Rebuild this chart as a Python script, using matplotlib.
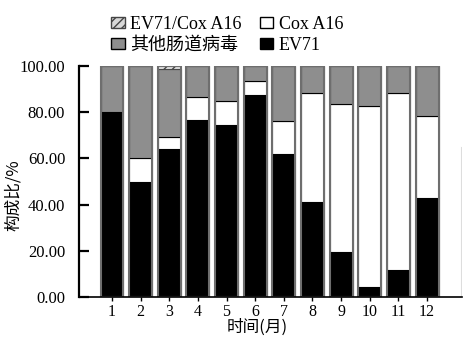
import numpy as np
import matplotlib.pyplot as plt
from matplotlib.patches import Patch

# 数据
months = ['1', '2', '3', '4', '5', '6', '7', '8', '9', '10', '11', '12']
ev71 = [80.0, 50.0, 64.0, 76.8, 74.5, 87.4, 62.0, 41.2, 19.5, 4.5, 11.7, 43.0]
cox_a16 = [0.0, 10.0, 5.3, 9.8, 10.3, 6.1, 14.0, 47.0, 64.2, 78.0, 76.6, 35.3]
mixed = [0.0, 0.0, 1.5, 0.0, 0.0, 0.0, 0.0, 0.0, 0.0, 0.0, 0.0, 0.0]
other = [100 - a - b - c for a, b, c in zip(ev71, cox_a16, mixed)]

serif = ['Liberation Serif', 'Noto Sans CJK SC']
cjk = ['Noto Sans CJK SC', 'Liberation Serif']

fig = plt.figure(figsize=(4.74, 3.39), dpi=100)
ax = fig.add_axes([0.1667, 0.1239, 0.808, 0.6814])

x = np.arange(1, len(months) + 1)
w = 0.8
gray = '#8e8e8e'

ax.bar(x, ev71, w, color='black', edgecolor='black', linewidth=0.8)
ax.bar(x, cox_a16, w, bottom=ev71, color='white', edgecolor='black', linewidth=0.8)
bot3 = np.array(ev71) + np.array(cox_a16)
ax.bar(x, other, w, bottom=bot3, color=gray, edgecolor='black', linewidth=0.8)
bot4 = bot3 + np.array(other)
ax.bar(x, mixed, w, bottom=bot4, color='#d8d8d8', edgecolor='#444444',
       hatch='////', linewidth=0.6)
# 外框
ax.bar(x, 100, w, fill=False, edgecolor='#6e6e6e', linewidth=1.5)

ax.set_xlim(-0.15, 13.22)
ax.set_ylim(0, 100)
ax.set_xticks(x)
ax.set_xticklabels(months, family=serif, fontsize=11.5)
ax.set_yticks(np.arange(0, 101, 20))
ax.set_yticklabels(['%.2f' % v for v in np.arange(0, 101, 20)], family=serif, fontsize=12)
ax.tick_params(axis='y', direction='in', length=7, width=1.6, pad=10)
ax.tick_params(axis='x', direction='out', length=3, width=1.0, pad=2)

for s in ['top', 'right']:
    ax.spines[s].set_visible(False)
ax.spines['left'].set_linewidth(1.6)
ax.spines['bottom'].set_linewidth(1.2)
ax.axvline(13.2, ymin=0, ymax=0.65, color='#dddddd', linewidth=0.8)

ax.set_xlabel('时间(月)', family=cjk, fontsize=12)
ax.set_ylabel('构成比/%', family=cjk, fontsize=12)
ax.xaxis.set_label_coords(0.465, -0.095)
ax.yaxis.set_label_coords(-0.15, 0.44)

handles = [
    Patch(facecolor='#d8d8d8', edgecolor='#444444', hatch='////', label='EV71/Cox A16'),
    Patch(facecolor=gray, edgecolor='black', label='其他肠道病毒'),
    Patch(facecolor='white', edgecolor='black', label='Cox A16'),
    Patch(facecolor='black', edgecolor='black', label='EV71'),
]
fig.legend(handles=handles, ncol=2, loc='upper left', bbox_to_anchor=(0.2, 1.0),
           frameon=False, prop={'family': serif, 'size': 13},
           handlelength=0.75, handleheight=0.55, handletextpad=0.3,
           columnspacing=1.0, labelspacing=0.2)

fig.savefig('out.png', dpi=100)
